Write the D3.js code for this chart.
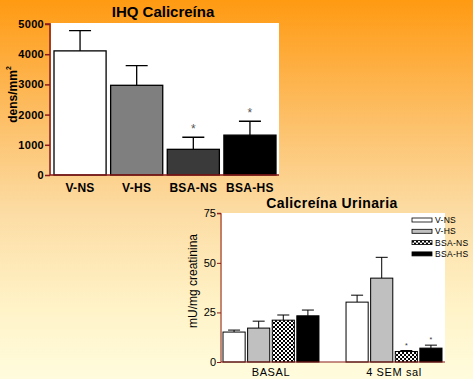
<!DOCTYPE html>
<html>
<head>
<meta charset="utf-8">
<script src="https://cdn.jsdelivr.net/npm/d3@7"></script>
<style>
  body { margin: 0; }
  svg { display: block; font-family: Arial, "Liberation Sans", sans-serif; }
</style>
</head>
<body>
<div id="chart"></div>
<script>
// top chart data
const ihqGroups = ["V-NS", "V-HS", "BSA-NS", "BSA-HS"]
const ihqMeans = [4110, 2970, 850, 1320]
const ihqErr = [670, 650, 400, 460]
const ihqStars = [false, false, true, true]
const ihqTicks = [0, 1000, 2000, 3000, 4000, 5000]

// bottom chart data
const uriTimes = ["BASAL", "4 SEM sal"]
const uriGroups = ["V-NS", "V-HS", "BSA-NS", "BSA-HS"]
const uriMeans = [[15.1, 17.1, 21.1, 23.3], [30.2, 42.3, 5.3, 7.0]]
const uriErr = [[1.0, 3.5, 2.6, 2.9], [3.5, 10.5, 0.5, 1.5]]
const uriStars = [[false, false, false, false], [false, false, true, true]]
const uriTicks = [0, 25, 50, 75]

const W = 473, H = 379
const axisColor = "#8b1a1a"

const svg = d3.select("#chart").append("svg")
    .attr("width", W)
    .attr("height", H)

const defs = svg.append("defs")
const grad = defs.append("linearGradient")
    .attr("id", "bg").attr("x1", 0).attr("y1", 0).attr("x2", 0).attr("y2", 1)
grad.selectAll("stop")
    .data([[0, "#ff9a12"], [0.28, "#fdbb5e"], [0.55, "#fcdba2"], [0.8, "#fff2c6"], [1, "#fffcdd"]])
    .join("stop")
    .attr("offset", d => d[0])
    .attr("stop-color", d => d[1])

const checker = defs.append("pattern")
    .attr("id", "checker").attr("patternUnits", "userSpaceOnUse")
    .attr("width", 4).attr("height", 4)
checker.append("rect").attr("width", 4).attr("height", 4).attr("fill", "#fff")
checker.append("rect").attr("width", 2).attr("height", 2).attr("fill", "#000")
checker.append("rect").attr("x", 2).attr("y", 2).attr("width", 2).attr("height", 2).attr("fill", "#000")

svg.append("rect").attr("width", W).attr("height", H).attr("fill", "url(#bg)")

// ---------- IHQ Calicreina ----------
{
    const left = 51, right = 279, top = 23, bottom = 175
    const x = d3.scaleBand().domain(ihqGroups).range([left + 3, right - 3]).paddingInner(0.08)
    const y = d3.scaleLinear().domain([0, 5000]).range([bottom, 24])
    const fills = ["#ffffff", "#7f7f7f", "#3a3a3a", "#000000"]

    const g = svg.append("g")

    g.append("rect")
        .attr("x", left).attr("y", top)
        .attr("width", right - left).attr("height", bottom - top)
        .attr("fill", "#fff")

    // error bars (upper only)
    g.selectAll(".err")
        .data(ihqGroups)
        .join("path")
        .attr("d", (d, i) => {
            const cx = x(d) + x.bandwidth() / 2
            return `M${cx},${y(ihqMeans[i])}V${y(ihqMeans[i] + ihqErr[i])}M${cx - 11},${y(ihqMeans[i] + ihqErr[i])}H${cx + 11}`
        })
        .attr("stroke", "#000").attr("stroke-width", 1.3).attr("fill", "none")

    g.selectAll(".bar")
        .data(ihqGroups)
        .join("rect")
        .attr("x", d => x(d))
        .attr("y", (d, i) => y(ihqMeans[i]))
        .attr("width", x.bandwidth())
        .attr("height", (d, i) => y(0) - y(ihqMeans[i]))
        .attr("fill", (d, i) => fills[i])
        .attr("stroke", "#000").attr("stroke-width", 1.3)

    g.selectAll(".star")
        .data(ihqGroups.filter((d, i) => ihqStars[i]))
        .join("text")
        .attr("x", d => x(d) + x.bandwidth() / 2)
        .attr("y", d => { const i = ihqGroups.indexOf(d); return y(ihqMeans[i] + ihqErr[i]) - 4 })
        .attr("text-anchor", "middle")
        .attr("font-size", 12).attr("fill", "#555")
        .text("*")

    const yAxis = d3.axisLeft(y).tickValues(ihqTicks).tickSize(5).tickFormat(d3.format("d"))
    g.append("g")
        .attr("transform", `translate(${left - 1},0)`)
        .call(yAxis)
        .call(a => a.select(".domain").attr("stroke", axisColor).attr("stroke-width", 1.5).attr("d", `M-5,${y(5000)}H0V${bottom}`))
        .call(a => a.selectAll(".tick line").attr("stroke", axisColor).attr("stroke-width", 1.5))
        .call(a => a.selectAll(".tick text").attr("font-size", 11).attr("font-weight", "bold").attr("fill", "#000").attr("x", -6).attr("letter-spacing", 0.3))

    g.append("line")
        .attr("x1", left - 1).attr("x2", right)
        .attr("y1", bottom).attr("y2", bottom)
        .attr("stroke", axisColor).attr("stroke-width", 1.5)

    g.selectAll(".xl")
        .data(ihqGroups)
        .join("text")
        .attr("x", d => x(d) + x.bandwidth() / 2)
        .attr("y", 192)
        .attr("text-anchor", "middle")
        .attr("font-size", 12).attr("font-weight", "bold").attr("letter-spacing", 0.3)
        .text(d => d)

    const yl = g.append("text")
        .attr("transform", `translate(17,${(bottom + 24) / 2 - 5}) rotate(-90)`)
        .attr("text-anchor", "middle")
        .attr("font-size", 12).attr("font-weight", "bold")
    yl.append("tspan").text("dens/mm")
    yl.append("tspan").attr("font-size", 7).attr("dy", -6).text("2")

    g.append("text")
        .attr("x", 163).attr("y", 17)
        .attr("text-anchor", "middle")
        .attr("font-size", 15).attr("font-weight", "bold")
        .text("IHQ Calicreína")
}

// ---------- Calicreina Urinaria ----------
{
    const left = 222, right = 445, top = 213, bottom = 362
    const x0 = d3.scaleBand().domain(uriTimes).range([223, 442]).paddingInner(0.22)
    const x1 = d3.scaleBand().domain(uriGroups).range([0, x0.bandwidth()]).paddingInner(0.1)
    const y = d3.scaleLinear().domain([0, 75]).range([bottom, 213.3])
    const fills = ["#ffffff", "#c0c0c0", "url(#checker)", "#000000"]

    const g = svg.append("g")

    g.append("rect")
        .attr("x", left).attr("y", top)
        .attr("width", right - left).attr("height", bottom - top)
        .attr("fill", "#fff")

    const groups = g.selectAll(".grp")
        .data(uriTimes)
        .join("g")
        .attr("transform", d => `translate(${x0(d)},0)`)

    groups.each(function(t, ti) {
        const gg = d3.select(this)
        gg.selectAll(".err")
            .data(uriGroups)
            .join("path")
            .attr("d", (d, i) => {
                const cx = x1(d) + x1.bandwidth() / 2
                const v = uriMeans[ti][i], e = uriErr[ti][i]
                return `M${cx},${y(v)}V${y(v + e)}M${cx - 6},${y(v + e)}H${cx + 6}`
            })
            .attr("stroke", "#000").attr("stroke-width", 1).attr("fill", "none")

        gg.selectAll(".bar")
            .data(uriGroups)
            .join("rect")
            .attr("x", d => x1(d))
            .attr("y", (d, i) => y(uriMeans[ti][i]))
            .attr("width", x1.bandwidth())
            .attr("height", (d, i) => y(0) - y(uriMeans[ti][i]))
            .attr("fill", (d, i) => fills[i])
            .attr("stroke", "#000").attr("stroke-width", 1)

        gg.selectAll(".star")
            .data(uriGroups.filter((d, i) => uriStars[ti][i]))
            .join("text")
            .attr("x", d => x1(d) + x1.bandwidth() / 2)
            .attr("y", d => { const i = uriGroups.indexOf(d); return y(uriMeans[ti][i] + uriErr[ti][i]) - 3 })
            .attr("text-anchor", "middle")
            .attr("font-size", 7).attr("fill", "#333")
            .text("*")
    })

    const yAxis = d3.axisLeft(y).tickValues(uriTicks).tickSize(4)
    g.append("g")
        .attr("transform", `translate(${left - 1},0)`)
        .call(yAxis)
        .call(a => a.select(".domain").attr("stroke", axisColor).attr("stroke-width", 1).attr("d", `M-4,${y(75)}H0V${bottom}`))
        .call(a => a.selectAll(".tick line").attr("stroke", axisColor))
        .call(a => a.selectAll(".tick text").attr("font-size", 11).attr("fill", "#000").attr("x", -5))

    g.append("line")
        .attr("x1", left - 1).attr("x2", right)
        .attr("y1", bottom).attr("y2", bottom)
        .attr("stroke", axisColor).attr("stroke-width", 1.2)

    g.selectAll(".xl")
        .data(uriTimes)
        .join("text")
        .attr("x", d => x0(d) + x0.bandwidth() / 2)
        .attr("y", 376)
        .attr("text-anchor", "middle")
        .attr("font-size", 11).attr("letter-spacing", 0.6)
        .text(d => d)

    g.append("text")
        .attr("transform", `translate(197,281) rotate(-90)`)
        .attr("text-anchor", "middle")
        .attr("font-size", 12)
        .text("mU/mg creatinina")

    g.append("text")
        .attr("x", 332).attr("y", 208)
        .attr("text-anchor", "middle")
        .attr("font-size", 14).attr("font-weight", "bold").attr("letter-spacing", 0.4)
        .text("Calicreína Urinaria")

    // legend
    const legend = g.append("g").attr("transform", "translate(412,218)")
    const items = legend.selectAll(".li")
        .data(uriGroups)
        .join("g")
        .attr("transform", (d, i) => `translate(0,${i * 11.3})`)
    items.append("rect")
        .attr("width", 20).attr("height", 4)
        .attr("fill", (d, i) => fills[i])
        .attr("stroke", "#000").attr("stroke-width", 0.8)
    items.append("text")
        .attr("x", 23).attr("y", 5)
        .attr("font-size", 8.5).attr("letter-spacing", 0.3)
        .text(d => d)
}
</script>
</body>
</html>
